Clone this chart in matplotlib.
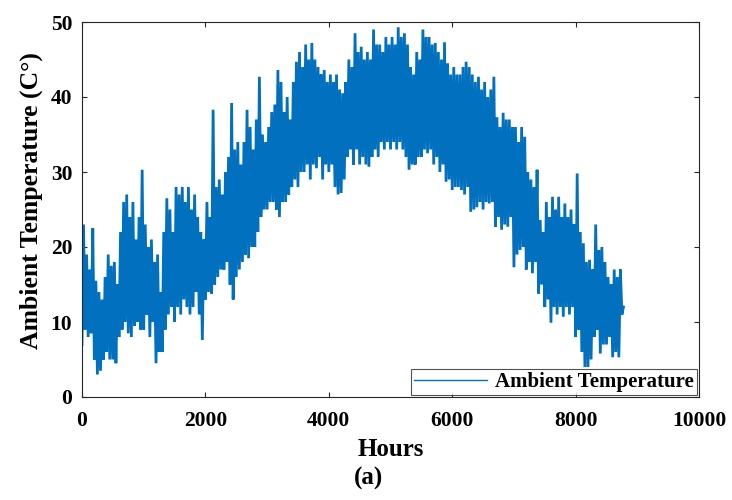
import numpy as np
import matplotlib.pyplot as plt

# hourly ambient temperature, summarised as the low and high of every 50 h block
block_start = np.arange(0, 8800, 50)

temp_low = [
    7, 9, 8, 8.5, 5, 3, 3.5, 5, 6, 5,
    5, 4.5, 8, 9, 10, 8.5, 8, 9.5, 10, 9,
    9, 11, 8, 10, 4.5, 6, 6, 9, 11, 12,
    10, 12, 11, 13, 12, 11, 12, 14, 11, 7.6,
    13, 14, 13.8, 15, 16, 17, 17, 18, 15, 13,
    16, 17, 18, 19, 18.5, 20, 20, 22, 24, 25,
    25, 26, 26, 25, 24, 26, 26, 27, 28, 29,
    28, 30, 30, 31, 29, 31, 30.5, 32, 29, 31,
    30, 31, 28, 27, 27.2, 29, 32, 33, 31, 33,
    31, 32, 31, 30.7, 32, 33, 32, 34, 33, 34,
    33, 34, 33, 34, 33, 32, 30.3, 31, 31, 32,
    32, 33, 32.5, 33, 31, 32, 30, 31, 28.7, 29,
    27.6, 28, 28, 27.6, 27, 28, 24.7, 25, 25.3, 26,
    25, 26, 25.8, 26, 22.7, 24, 22.3, 23, 22.7, 24,
    17.3, 19, 19.6, 20, 17, 18, 16.5, 18, 13.8, 15,
    12, 13, 9.9, 12, 11, 12, 10.7, 12, 11, 12,
    8, 9, 6, 4, 4, 5, 8, 9, 5.8, 7,
    7, 8, 5.3, 6, 5.3, 11,
]

temp_high = [
    23, 19, 17, 22.5, 15.5, 14, 13, 16, 19, 17.5,
    18, 15, 22, 26, 27, 24, 26, 21, 24, 30.3,
    23, 20, 21, 18, 19, 14, 22, 26.5, 25, 22,
    28, 27, 28, 26, 28, 25, 27, 24, 22, 21,
    26, 24, 38.3, 28, 29, 27, 30, 32, 39.2, 33,
    34, 31, 34, 38.3, 36, 33, 37, 42.7, 35, 34,
    36, 38, 39, 43.6, 42, 38, 40, 37, 42, 44.7,
    46, 44, 47, 45, 47.2, 45, 44, 43, 43.6, 42,
    43, 42, 43, 41, 40.5, 42, 45, 44, 48.5, 46,
    46.7, 45, 46, 45, 49, 47, 47, 46, 48, 47,
    48, 47, 49.3, 48, 48.5, 47, 44, 43, 46, 45,
    49, 48, 48, 47, 47.2, 46, 45, 47.3, 44.5, 43,
    44, 43, 43, 44, 44.7, 44, 43, 42, 42.7, 41,
    42, 40, 41, 42.7, 37.3, 36, 37.9, 37, 37, 36,
    36, 34, 36, 34.7, 30, 29, 28, 30.3, 23.6, 22,
    26, 24, 26.7, 25, 26.7, 24, 25.8, 24, 25, 23,
    29.8, 22, 20.5, 18, 18.3, 17, 23, 19.6, 20, 18,
    16, 15, 17, 16, 17, 12,
]

# each block: low at its start, high half way through
hours = np.column_stack([block_start, block_start + 25]).ravel()
temps = np.column_stack([temp_low, temp_high]).ravel()

plt.rcParams["font.family"] = ["Liberation Serif", "DejaVu Serif"]
plt.rcParams["font.weight"] = "bold"

fig = plt.figure(figsize=(7.32, 5.0), dpi=100)
ax = fig.add_axes([0.112, 0.206, 0.843, 0.750])

ax.plot(hours, temps, color="#0070BF", lw=2.0, solid_joinstyle="miter",
        label="Ambient Temperature")

ax.set_xlim(0, 10000)
ax.set_ylim(0, 50)
ax.set_xticks(np.arange(0, 10001, 2000))
ax.set_yticks(np.arange(0, 51, 10))
ax.tick_params(direction="in", length=3.5, width=0.8, top=True, right=True,
               labelsize=15.5, color="#262626")
ax.tick_params(axis="x", pad=10)
ax.tick_params(axis="y", pad=7)
for s in ax.spines.values():
    s.set_color("#262626")
    s.set_linewidth(0.8)

ax.set_xlabel("Hours", fontsize=18, fontweight="bold", labelpad=5)
ax.set_ylabel("Ambient Temperature (C°)", fontsize=18.5, fontweight="bold")
ax.yaxis.set_label_coords(-0.063, 0.525)

leg = ax.legend(loc="lower right", fontsize=15, frameon=True, fancybox=False,
                borderaxespad=0.1, handlelength=3.5, borderpad=0.15,
                handletextpad=0.4)
for line in leg.get_lines():
    line.set_linewidth(1.0)
leg.get_frame().set_edgecolor("#262626")
leg.get_frame().set_linewidth(0.8)

fig.text(0.503, 0.044, "(a)", ha="center", va="center", fontsize=18,
         fontweight="bold")

fig.savefig("out.png", dpi=100)
